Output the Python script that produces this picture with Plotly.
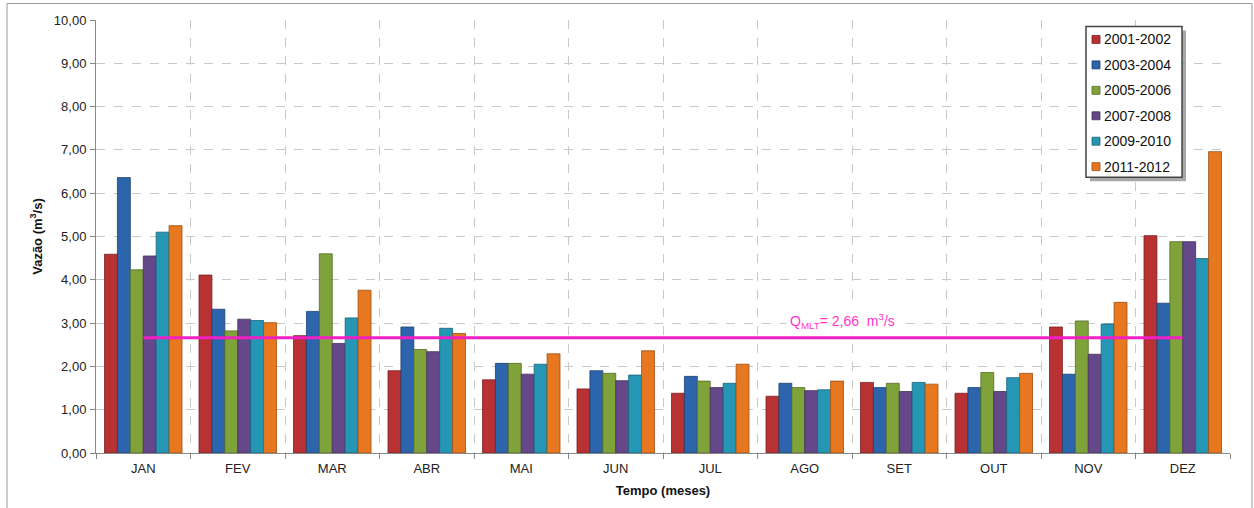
import plotly.graph_objects as go

months = ["JAN", "FEV", "MAR", "ABR", "MAI", "JUN", "JUL", "AGO", "SET", "OUT", "NOV", "DEZ"]
series_names = ["2001-2002", "2003-2004", "2005-2006", "2007-2008", "2009-2010", "2011-2012"]

v_2001_2002 = [4.59, 4.11, 2.71, 1.90, 1.69, 1.48, 1.38, 1.31, 1.63, 1.38, 2.91, 5.02]
v_2003_2004 = [6.36, 3.32, 3.27, 2.91, 2.07, 1.90, 1.77, 1.61, 1.51, 1.51, 1.82, 3.46]
v_2005_2006 = [4.23, 2.82, 4.60, 2.39, 2.07, 1.84, 1.66, 1.51, 1.61, 1.86, 3.05, 4.88]
v_2007_2008 = [4.55, 3.09, 2.53, 2.34, 1.82, 1.67, 1.51, 1.44, 1.42, 1.42, 2.28, 4.88]
v_2009_2010 = [5.10, 3.06, 3.12, 2.88, 2.05, 1.80, 1.61, 1.46, 1.63, 1.74, 2.98, 4.49]
v_2011_2012 = [5.25, 3.01, 3.76, 2.76, 2.29, 2.36, 2.05, 1.66, 1.59, 1.84, 3.48, 6.96]

q_mlt = 2.66
q_label = "Q<sub>MLT</sub>= 2,66  m<sup>3</sup>/s"

series_values = [v_2001_2002, v_2003_2004, v_2005_2006, v_2007_2008, v_2009_2010, v_2011_2012]
colors = ["#b83234", "#2d65ac", "#7fa33a", "#654889", "#2597b5", "#e8781f"]
edge = ["#7a1f21", "#1d416f", "#536c25", "#42305a", "#186276", "#9a4f14"]

fig = go.Figure()
for name, vals, c, e in zip(series_names, series_values, colors, edge):
    fig.add_trace(go.Bar(
        x=months, y=vals, name=name, showlegend=False,
        marker=dict(color=c, line=dict(color=e, width=0.8)),
    ))

fig.add_trace(go.Scatter(
    x=[months[0], months[-1]], y=[q_mlt, q_mlt], mode="lines",
    line=dict(color="#f21fc4", width=3), showlegend=False, hoverinfo="skip",
))

L, R, T, B = 96, 24, 19.5, 54.5
W, H = 1254, 508
pw = W - L - R
ph = H - T - B

def px_x(p):
    return (p - L) / pw

def px_y(p):
    return (H - B - p) / ph

fig.add_annotation(
    x=px_x(842), y=px_y(321), xref="paper", yref="paper",
    text=q_label, showarrow=False, bgcolor="white", yanchor="middle",
    font=dict(family="Arial, Liberation Sans", size=14, color="#ff33cc"),
    borderpad=3,
)

# outer chart border
fig.add_shape(type="rect", xref="paper", yref="paper",
              x0=px_x(7), x1=px_x(1252), y0=px_y(512), y1=px_y(3),
              line=dict(color="#9a9a9a", width=1), fillcolor="rgba(0,0,0,0)", layer="below")

# custom legend: shadow, box, swatches, labels
lx0, lx1, ly0, ly1 = 1086, 1182, 26, 177
fig.add_shape(type="rect", xref="paper", yref="paper",
              x0=px_x(lx0 + 4), x1=px_x(lx1 + 4), y0=px_y(ly1 + 4), y1=px_y(ly0 + 4),
              line=dict(width=0), fillcolor="rgba(110,110,110,0.6)", layer="above")
fig.add_shape(type="rect", xref="paper", yref="paper",
              x0=px_x(lx0), x1=px_x(lx1), y0=px_y(ly1), y1=px_y(ly0),
              line=dict(color="#444", width=1.5), fillcolor="white", layer="above")
for i, (name, c, e) in enumerate(zip(series_names, colors, edge)):
    cy = 39 + i * 25.5
    fig.add_shape(type="rect", xref="paper", yref="paper",
                  x0=px_x(1092), x1=px_x(1100), y0=px_y(cy + 4), y1=px_y(cy - 4),
                  line=dict(color=e, width=0.8), fillcolor=c, layer="above")
    fig.add_annotation(
        x=px_x(1102), y=px_y(cy), xref="paper", yref="paper",
        text=name, showarrow=False, xanchor="left", yanchor="middle",
        font=dict(family="Arial, Liberation Sans", size=14, color="#111"),
    )

fig.update_layout(
    width=W, height=H,
    margin=dict(l=L, r=R, t=T, b=B),
    paper_bgcolor="white", plot_bgcolor="white",
    separators=",.",
    barmode="group", bargap=0.18, bargroupgap=0,
    showlegend=False,
    font=dict(family="Arial, Liberation Sans", size=13, color="#222"),
    xaxis=dict(
        type="category", tickson="boundaries", automargin=False,
        showgrid=True, gridcolor="#c8c8c8", griddash="dash", gridwidth=1,
        showline=True, linecolor="#888", linewidth=1,
        ticks="outside", ticklen=5, tickcolor="#888",
        tickfont=dict(size=13, color="#222"),
        ticklabelstandoff=3,
        title=dict(text="<b>Tempo (meses)</b>", font=dict(size=13, color="#111"), standoff=11),
        range=[-0.5, 11.5],
    ),
    yaxis=dict(
        range=[0, 10], dtick=1, tickformat=".2f", automargin=False,
        showgrid=True, gridcolor="#c8c8c8", griddash="dash", gridwidth=1,
        showline=True, linecolor="#888", linewidth=1,
        ticks="outside", ticklen=5, tickcolor="#888",
        tickfont=dict(size=13, color="#222"),
        ticklabelstandoff=1,
        zeroline=False,
        title=dict(text="<b>Vazão (m<sup>3</sup>/s)</b>", font=dict(size=13, color="#111"), standoff=8),
    ),
)

fig.write_html("out.html")
